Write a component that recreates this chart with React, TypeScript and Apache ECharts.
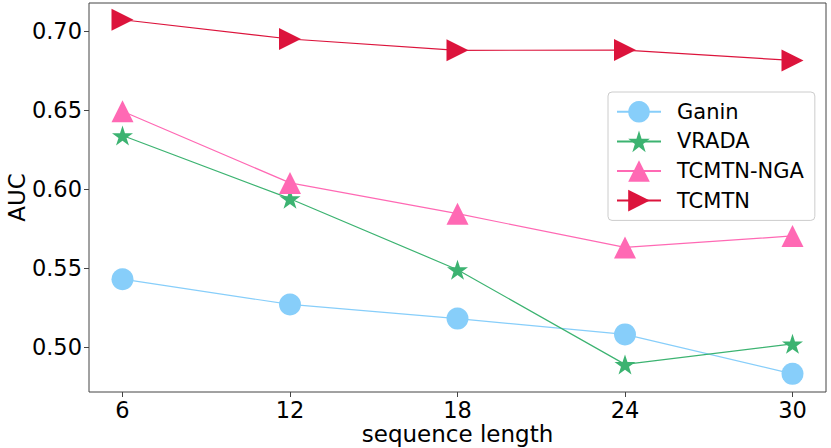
import React, { useEffect, useRef } from "react";
import * as echarts from "echarts";

const seqLengths = [6, 12, 18, 24, 30];
const xTicks = [6, 12, 18, 24, 30];
const yTicks = [0.5, 0.55, 0.6, 0.65, 0.7];
const ganin = [0.543, 0.527, 0.518, 0.508, 0.483];
const vrada = [0.634, 0.594, 0.549, 0.489, 0.502];
const tcmtnNga = [0.6494, 0.604, 0.5845, 0.5631, 0.5704];
const tcmtn = [0.7074, 0.6952, 0.688, 0.6882, 0.6816];

const STAR =
  "path://M0,-100 L22.45,-30.9 L95.1,-30.9 L36.3,11.8 L58.8,80.9 L0,38.2 L-58.8,80.9 L-36.3,11.8 L-95.1,-30.9 L-22.45,-30.9 Z";
const RIGHT_TRI = "path://M0,0 L100,50 L0,100 Z";

const FONT = "DejaVu Sans";

export default function App() {
  const ref = useRef<HTMLDivElement>(null);
  useEffect(() => {
    document.body.style.margin = "0";
    if (!ref.current) return;
    const chart = echarts.init(ref.current, undefined, { renderer: "svg" });
    const pairs = (ys: number[]) => seqLengths.map((x, i) => [x, ys[i]]);
    const mk = (name: string, ys: number[], color: string, symbol: string, size: any) => ({
      name,
      type: "line",
      data: pairs(ys),
      symbol,
      symbolSize: size,
      showAllSymbol: true,
      lineStyle: { color, width: 1.2 },
      itemStyle: { color, opacity: 1 },
      emphasis: { disabled: true },
    });
    chart.setOption({
      animation: false,
      textStyle: { fontFamily: FONT },
      grid: {
        left: 89,
        right: 5,
        top: 3,
        bottom: 56,
        containLabel: false,
        outerBoundsMode: "none",
        show: true,
        borderColor: "#444",
        borderWidth: 1,
        backgroundColor: "transparent",
      },
      legend: {
        left: 608,
        top: 92,
        orient: "vertical",
        padding: [9, 11, 9, 8],
        itemWidth: 44,
        itemHeight: 27,
        itemGap: 8,
        borderColor: "#ccc",
        borderWidth: 1,
        borderRadius: 4,
        backgroundColor: "rgba(255,255,255,0.8)",
        textStyle: { fontSize: 21, color: "#000", fontFamily: FONT, padding: [0, 0, 0, 11] },
        data: ["Ganin", "VRADA", "TCMTN-NGA", "TCMTN"],
      },
      xAxis: {
        type: "value",
        min: 4.8,
        max: 31.2,
        name: "sequence length",
        nameLocation: "middle",
        nameGap: 32,
        nameMoveOverlap: false,
        nameTextStyle: { fontSize: 23, lineHeight: 20, color: "#000", fontFamily: FONT },
        axisLine: { show: false },
        splitLine: { show: false },
        axisTick: { show: true, inside: false, length: 5, lineStyle: { color: "#444" }, customValues: xTicks },
        axisLabel: {
          fontSize: 22.5,
          lineHeight: 22,
          color: "#000",
          margin: 7,
          fontFamily: FONT,
          customValues: xTicks,
        },
      },
      yAxis: {
        type: "value",
        min: 0.4715,
        max: 0.718,
        name: "AUC",
        nameLocation: "middle",
        nameGap: 61,
        nameMoveOverlap: false,
        nameTextStyle: { fontSize: 23, color: "#000", fontFamily: FONT },
        axisLine: { show: false },
        splitLine: { show: false },
        axisTick: { show: true, inside: false, length: 5, lineStyle: { color: "#444" }, customValues: yTicks },
        axisLabel: {
          fontSize: 22.5,
          color: "#000",
          margin: 7,
          fontFamily: FONT,
          customValues: yTicks,
          formatter: (v: number) => v.toFixed(2),
        },
      },
      series: [
        mk("Ganin", ganin, "#87CEFA", "circle", 22),
        mk("VRADA", vrada, "#3CB371", STAR, [21, 20]),
        mk("TCMTN-NGA", tcmtnNga, "#FF69B4", "triangle", 22),
        mk("TCMTN", tcmtn, "#DC143C", RIGHT_TRI, 22),
      ],
    });
    return () => chart.dispose();
  }, []);
  return <div ref={ref} style={{ width: 831, height: 448 }} />;
}
